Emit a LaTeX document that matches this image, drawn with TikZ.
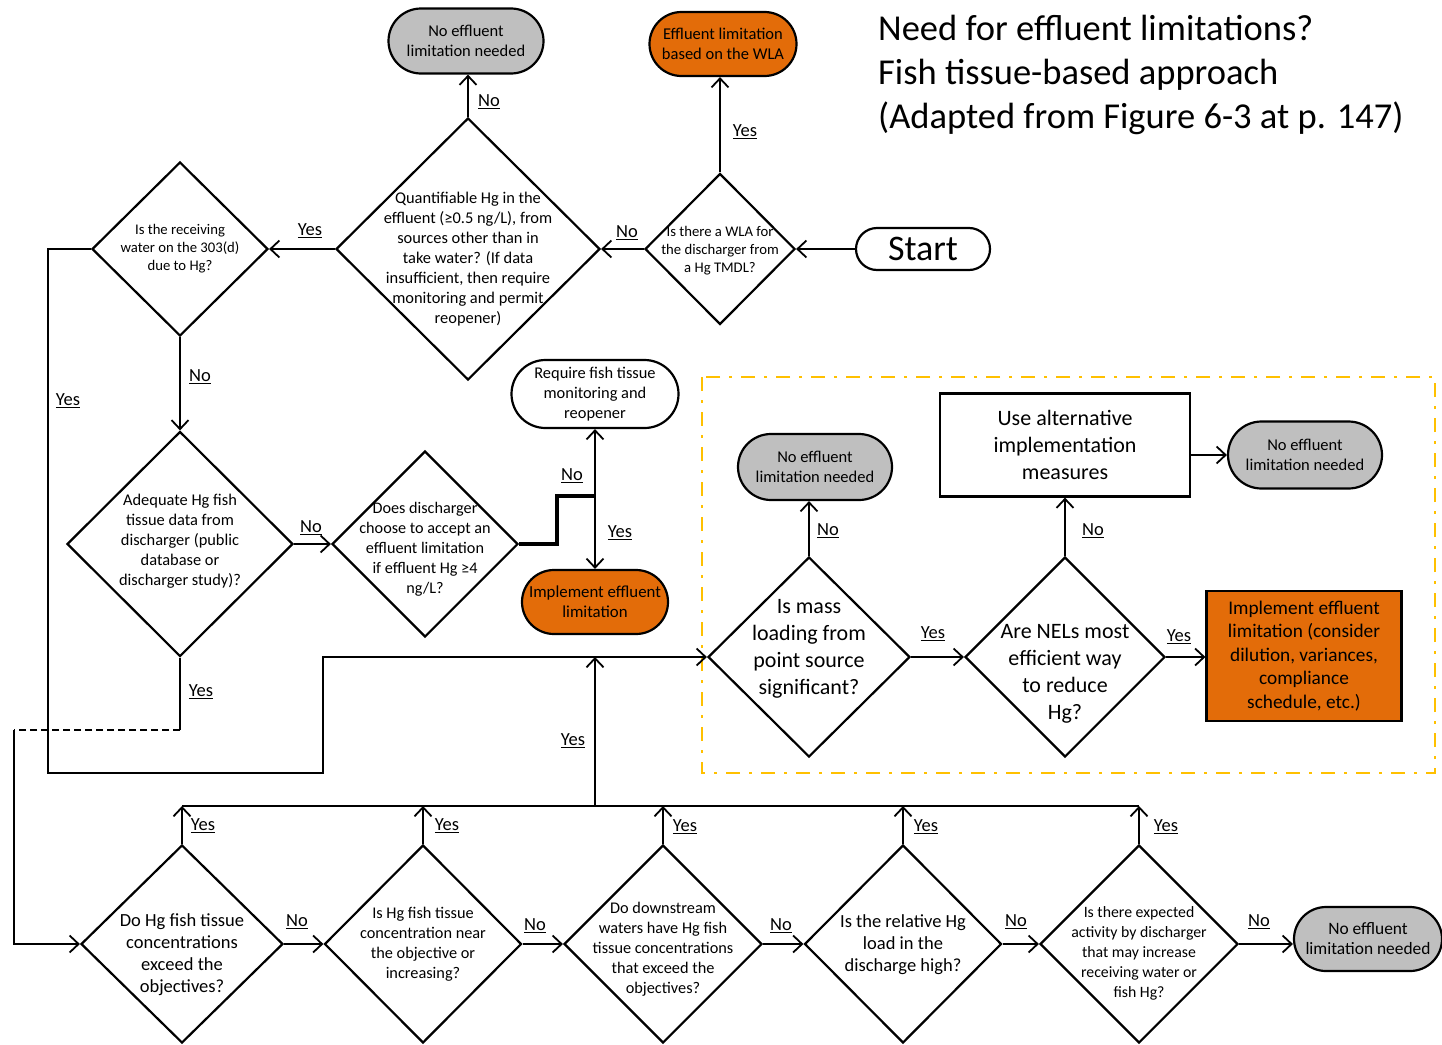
\documentclass[tikz,border=0pt]{standalone}
\usepackage{fontspec}
\setmainfont{Carlito}
\usepackage{tikz}
\definecolor{colorange}{RGB}{227,108,9}
\definecolor{colgrey}{RGB}{191,191,191}
\definecolor{colgold}{RGB}{255,192,0}
\usetikzlibrary{
	arrows.meta,
	shapes.geometric,
	shapes.misc
}
\newcommand{\fsz}[2]{\fontsize{#1}{#2}\selectfont}
\newcommand{\dtext}[2][0pt]{\makebox[0pt]{\smash{\raisebox{\dimexpr #1-0.25em\relax}{\parbox[c]{300pt}{\centering #2}}}}}
\tikzset{
	>={Straight Barb[length=9pt,width=17pt]},
	flowline/.style={line width=1.8pt},
	flowedge/.style={->, line width=1.8pt},
	decnode/.style 2 args={diamond, draw, line width=2.2pt, fill=white, inner sep=0pt, minimum width=#1, minimum height=#2},
	endnode/.style 2 args={rounded rectangle, draw, line width=2.2pt, inner sep=0pt, align=center, minimum width=#1, minimum height=#2},
	boxnode/.style 2 args={rectangle, draw, line width=2.2pt, inner sep=0pt, align=center, minimum width=#1, minimum height=#2},
	answer/.style={font=\fsz{18.5}{20}, inner sep=1pt}
}

\begin{document}
\begin{tikzpicture}[x=1pt, y=-1pt]
	\useasboundingbox (0,0) rectangle (1442,1044);
	\draw[colgold, line width=2.5pt, dash pattern=on 14pt off 9pt on 3pt off 9pt] (702,377) rectangle (1435,773);

	\node[anchor=north west, align=left, inner sep=0pt, font=\fsz{36.5}{44}] (title) at (878,15) {Need for effluent limitations?\\Fish tissue-based approach\\(Adapted from Figure 6-3 at p. 147)};

	% top row
	\node[endnode={134}{42}, fill=white, font=\fsz{36}{40}] (start) at (923,249) {Start};
	\node[decnode={150}{151}, font=\fsz{14.7}{18}] (wla) at (720,249) {\dtext[-2pt]{Is there a WLA for\\the discharger from\\a Hg TMDL?}};
	\node[endnode={147}{64}, fill=colorange, font=\fsz{16.5}{20}] (wlalim) at (723,44) {Effluent limitation\\based on the WLA};
	\node[decnode={264}{262}, font=\fsz{16.4}{20}] (quant) at (468,249) {\dtext[-10pt]{Quantifiable Hg in the\\effluent (≥0.5 ng/L), from\\sources other than in\\take water? (If data\\insufficient, then require\\monitoring and permit\\reopener)}};
	\node[endnode={155}{65}, fill=colgrey, font=\fsz{16.5}{20}] (noeffa) at (466,41) {No effluent\\limitation needed};
	\node[decnode={176}{174}, font=\fsz{14.7}{18}] (rw) at (180,249) {\dtext{Is the receiving\\water on the 303(d)\\due to Hg?}};

	% middle row
	\node[decnode={226}{225}, font=\fsz{16.4}{20}] (adq) at (180,544) {\dtext[3pt]{Adequate Hg fish\\tissue data from\\discharger (public\\database or\\discharger study)?}};
	\node[decnode={186}{186}, font=\fsz{16.2}{20}] (acc) at (425,544) {\dtext[-6pt]{Does discharger\\choose to accept an\\effluent limitation\\if effluent Hg ≥4\\ng/L?}};
	\node[endnode={167}{68}, fill=white, font=\fsz{16.4}{20}] (req) at (595,394) {Require fish tissue\\monitoring and\\reopener};
	\node[endnode={146}{64}, fill=colorange, font=\fsz{16.8}{20}] (impl) at (595,602) {Implement effluent\\limitation};
	\coordinate (split) at (595,496);

	% dashed box
	\node[decnode={202}{200}, font=\fsz{22}{27}] (mass) at (809,657) {\dtext[8pt]{Is mass\\loading from\\point source\\significant?}};
	\node[endnode={154}{66}, fill=colgrey, font=\fsz{16.5}{20}] (noeffb) at (815,467) {No effluent\\limitation needed};
	\node[decnode={200}{200}, font=\fsz{22}{27}] (nel) at (1065,657) {\dtext[-17pt]{Are NELs most\\efficient way\\to reduce\\Hg?}};
	\node[boxnode={250}{103}, font=\fsz{22}{27}] (alt) at (1065,445) {Use alternative\\implementation\\measures};
	\node[endnode={154}{67}, fill=colgrey, font=\fsz{16.5}{20}] (noeffc) at (1305,455) {No effluent\\limitation needed};
	\node[boxnode={195}{130}, fill=colorange, font=\fsz{19.3}{23.5}] (implbox) at (1304,656) {Implement effluent\\limitation (consider\\dilution, variances,\\compliance\\schedule, etc.)};

	% bottom row
	\node[decnode={202}{198}, font=\fsz{18.5}{22}] (fa) at (182,944) {\dtext[-10pt]{Do Hg fish tissue\\concentrations\\exceed the\\objectives?}};
	\node[decnode={197}{198}, font=\fsz{16.3}{20}] (fb) at (423,944) {\dtext{Is Hg fish tissue\\concentration near\\the objective or\\increasing?}};
	\node[decnode={198}{198}, font=\fsz{16.3}{20}] (fc) at (663,944) {\dtext[-5pt]{Do downstream\\waters have Hg fish\\tissue concentrations\\that exceed the\\objectives?}};
	\node[decnode={197}{198}, font=\fsz{18.5}{22}] (fd) at (903,944) {\dtext{Is the relative Hg\\load in the\\discharge high?}};
	\node[decnode={198}{198}, font=\fsz{15.8}{20}] (fe) at (1139,944) {\dtext[-9pt]{Is there expected\\activity by discharger\\that may increase\\receiving water or\\fish Hg?}};
	\node[endnode={148}{64}, fill=colgrey, font=\fsz{17.4}{20}] (noeffd) at (1368,939) {No effluent\\limitation needed};
	\coordinate (bar) at (595,806);

	% connectors
	\draw[flowedge] (start) -- (wla);
	\draw[flowedge] (wla.north) -- (wla.north |- wlalim.south);
	\draw[flowedge] (wla) -- (quant);
	\draw[flowedge] (quant.north) -- (quant.north |- noeffa.south);
	\draw[flowedge] (quant) -- (rw);
	\draw[flowedge] (rw) -- (adq);
	\draw[flowedge] (rw.west) -| (48,773) -| (323,657) -- (mass.west);
	\draw[flowedge] (adq) -- (acc);
	\draw[flowline] (adq.south) -- ++(0,72) coordinate (dashstart);
	\draw[flowline, dash pattern=on 7pt off 4pt] (dashstart) -- ++(-166,0) coordinate (dashend);
	\draw[flowedge] (dashend) |- (fa.west);
	\draw[line width=3.5pt] (acc.east) -- ++(38,0) |- (split);
	\draw[flowedge] (split) -- (req.south);
	\draw[flowedge] (split) -- (impl.north);
	\draw[flowedge] (mass.north) -- (mass.north |- noeffb.south);
	\draw[flowedge] (mass) -- (nel);
	\draw[flowedge] (nel.north) -- (nel.north |- alt.south);
	\draw[flowedge] (alt.east |- noeffc.west) -- (noeffc.west);
	\draw[flowedge] (nel.east) -- (nel.east -| implbox.west);
	\draw[flowline] (fa.north |- bar) -- (fe.north |- bar);
	\draw[flowedge] (bar) -- (bar |- mass.west);
	\foreach \f in {fa,fb,fc,fd,fe}
		\draw[flowedge] (\f.north) -- (\f.north |- bar);
	\draw[flowedge] (fa) -- (fb);
	\draw[flowedge] (fb) -- (fc);
	\draw[flowedge] (fc) -- (fd);
	\draw[flowedge] (fd) -- (fe);
	\draw[flowedge] (fe.east) -- (fe.east -| noeffd.west);

	% answers
	\node[answer] (wlayes) at (745,132) {\underline{Yes}};
	\node[answer] (wlano) at (627,233) {\underline{No}};
	\node[answer] (quantno) at (489,102) {\underline{No}};
	\node[answer] (quantyes) at (310,231) {\underline{Yes}};
	\node[answer] (rwno) at (200,377) {\underline{No}};
	\node[answer] (rwyes) at (68,401) {\underline{Yes}};
	\node[answer] (adqno) at (311,528) {\underline{No}};
	\node[answer] (adqyes) at (201,692) {\underline{Yes}};
	\node[answer] (accno) at (572,476) {\underline{No}};
	\node[answer] (accyes) at (620,533) {\underline{Yes}};
	\node[answer] (baryes) at (573,741) {\underline{Yes}};
	\node[answer] (massno) at (828,531) {\underline{No}};
	\node[answer] (massyes) at (933,634) {\underline{Yes}};
	\node[answer] (nelno) at (1093,531) {\underline{No}};
	\node[answer] (nelyes) at (1179,637) {\underline{Yes}};
	\node[answer] (fayes) at (203,826) {\underline{Yes}};
	\node[answer] (fbyes) at (447,826) {\underline{Yes}};
	\node[answer] (fcyes) at (685,827) {\underline{Yes}};
	\node[answer] (fdyes) at (926,827) {\underline{Yes}};
	\node[answer] (feyes) at (1166,827) {\underline{Yes}};
	\node[answer] (fano) at (297,922) {\underline{No}};
	\node[answer] (fbno) at (535,926) {\underline{No}};
	\node[answer] (fcno) at (781,926) {\underline{No}};
	\node[answer] (fdno) at (1016,922) {\underline{No}};
	\node[answer] (feno) at (1259,922) {\underline{No}};
\end{tikzpicture}
\end{document}
